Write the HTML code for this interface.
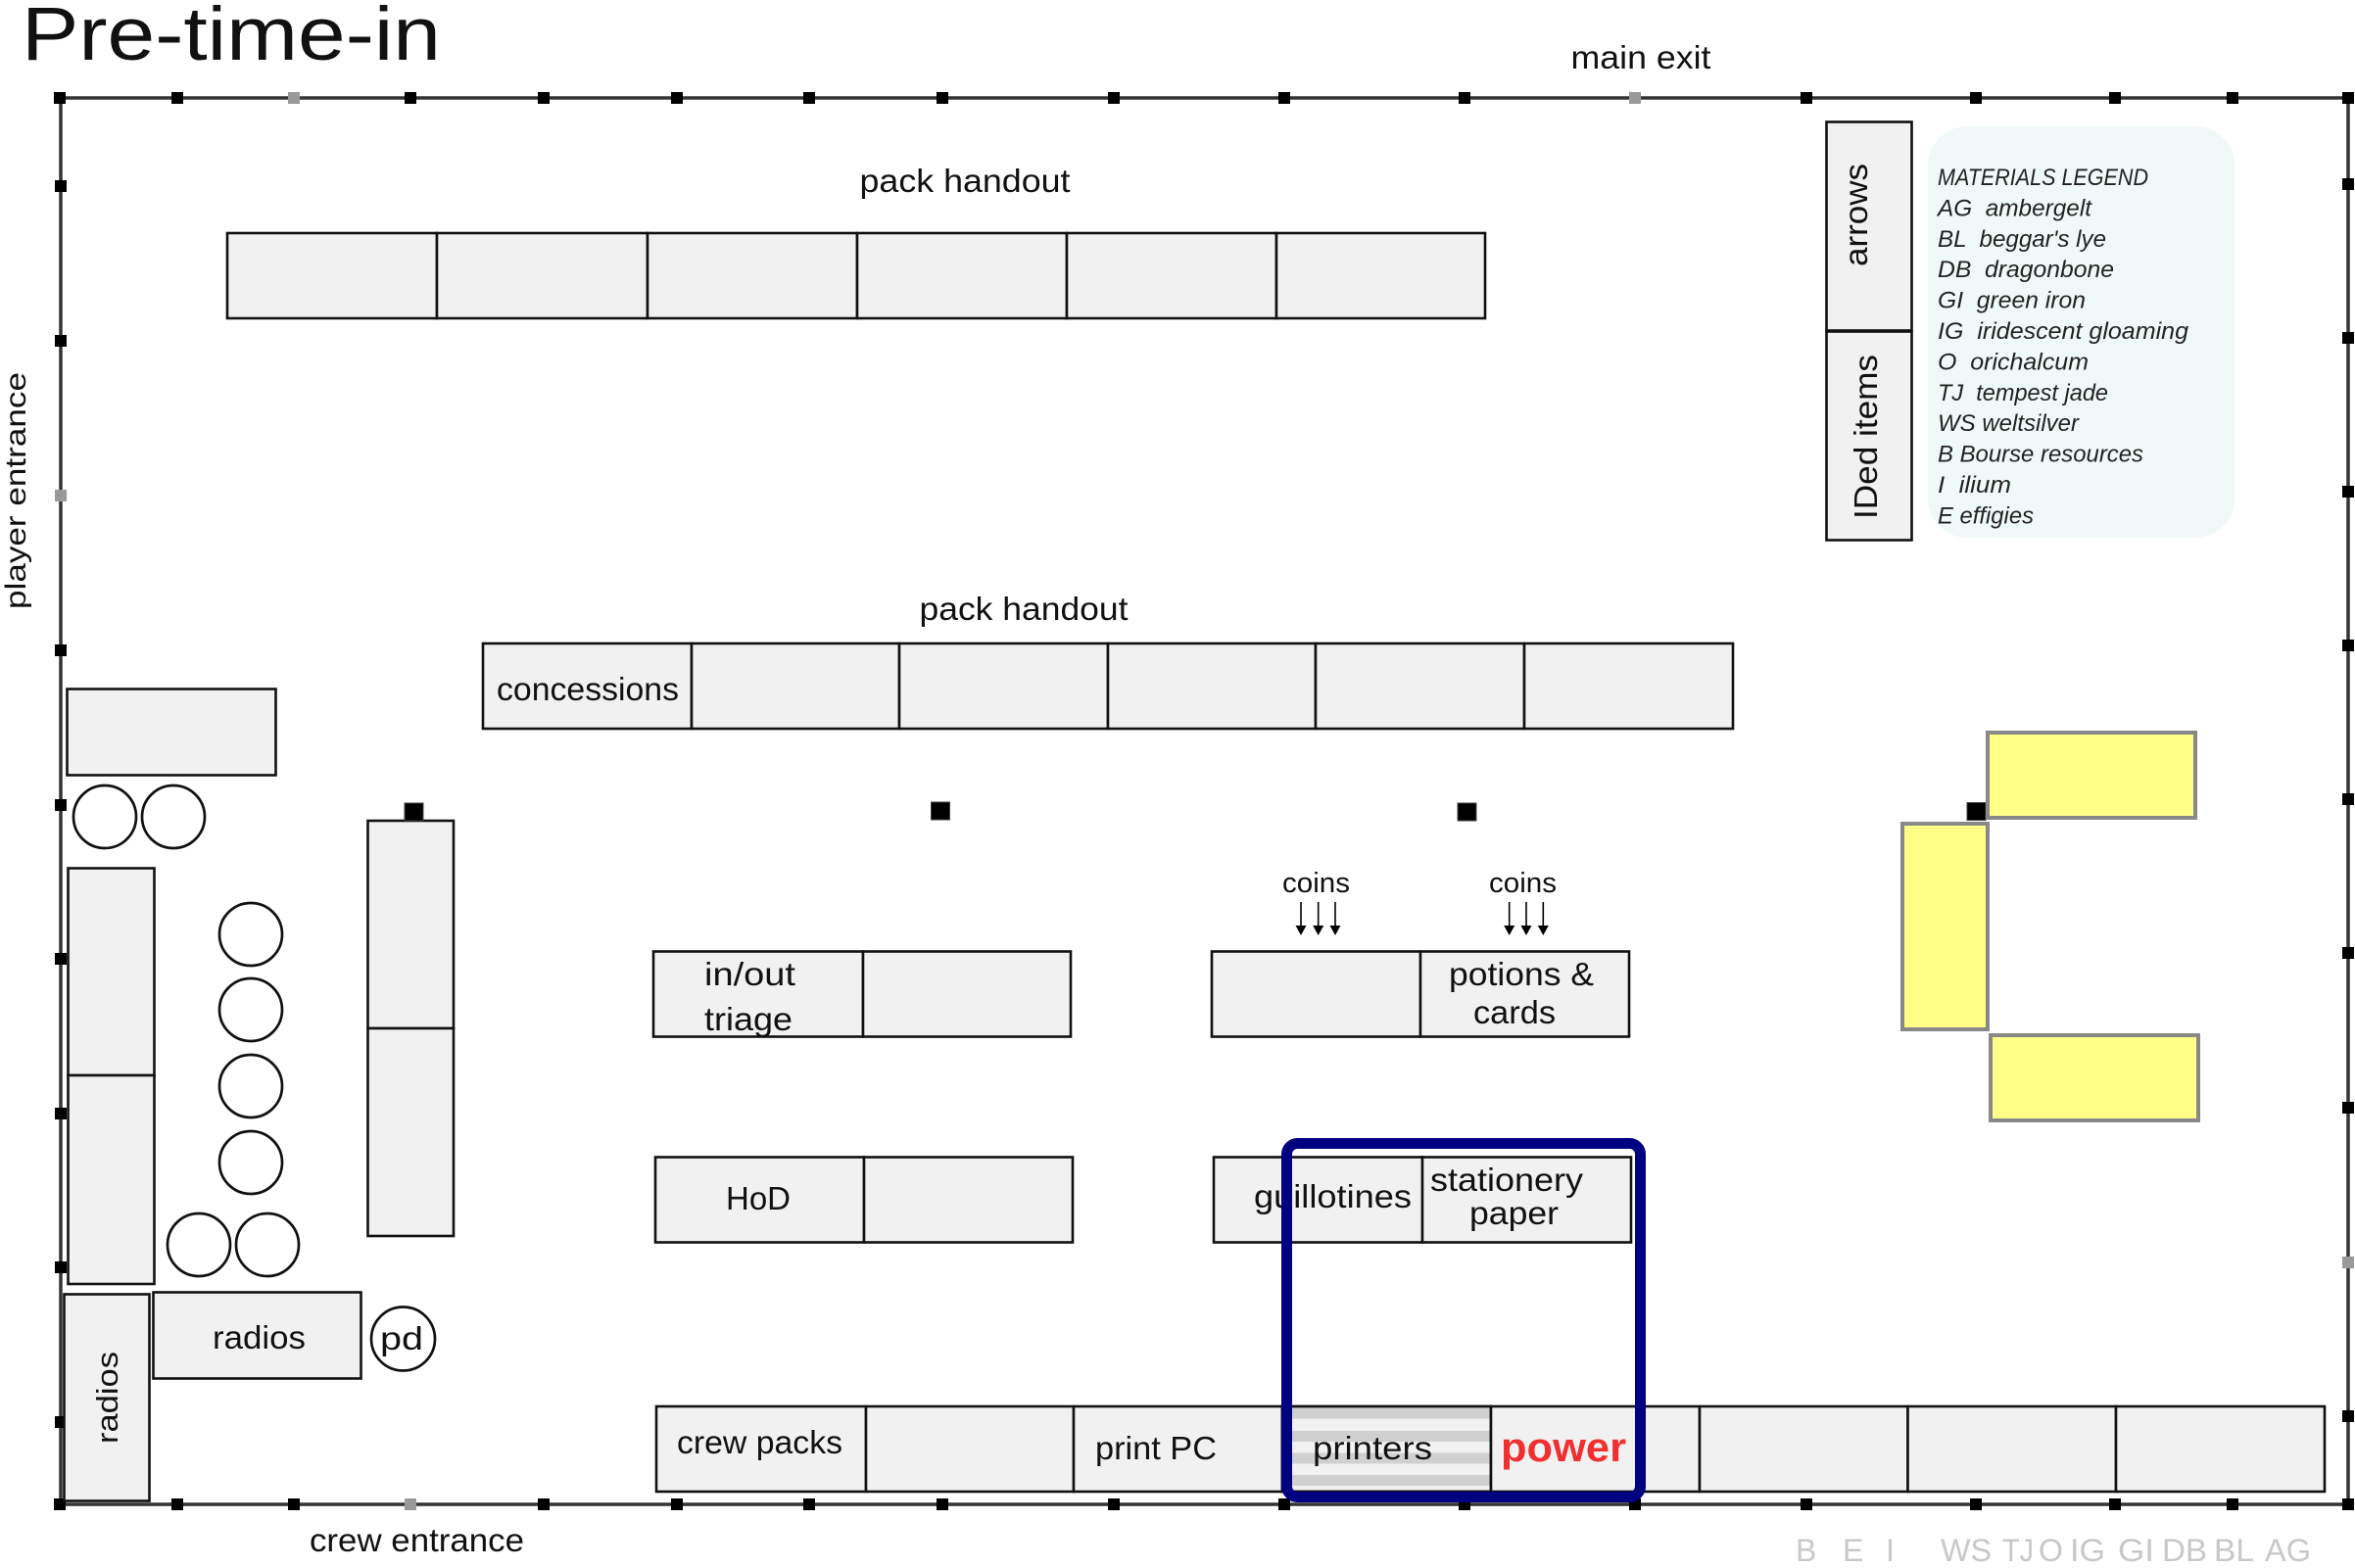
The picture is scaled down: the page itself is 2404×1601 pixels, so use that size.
<!DOCTYPE html>
<html><head><meta charset="utf-8"><style>
html,body{margin:0;padding:0;background:#fff;}
svg{display:block;}
text{font-family:"Liberation Sans",sans-serif;fill:#111;white-space:pre;}
.bx{fill:#f1f1f1;stroke:#111;stroke-width:2.6;}
.ci{fill:#fff;stroke:#111;stroke-width:2.7;}
.yl{fill:#ffff88;stroke:#888;stroke-width:4;}
.t33{font-size:33px;}
.lg{font-size:24.5px;font-style:italic;fill:#222;}
.gl{font-size:32px;fill:#c8c8c8;}
</style></head><body>
<svg width="2404" height="1601" viewBox="0 0 2404 1601" xmlns="http://www.w3.org/2000/svg">
<rect x="0" y="0" width="2404" height="1601" fill="#fff"/>

<!-- title -->
<text x="22" y="61" style="font-size:77px" textLength="428" lengthAdjust="spacingAndGlyphs">Pre-time-in</text>
<text x="1675" y="70" class="t33" text-anchor="middle" textLength="143" lengthAdjust="spacingAndGlyphs">main exit</text>

<!-- border -->
<g stroke="#333" stroke-width="3.5" fill="none">
<line x1="61" y1="100" x2="2398" y2="100"/>
<line x1="61" y1="1536" x2="2398" y2="1536"/>
<line x1="62" y1="100" x2="62" y2="1536"/>
<line x1="2397" y1="100" x2="2397" y2="1536"/>
</g>
<!-- ticks -->
<g fill="#000">
<rect x="55" y="94" width="12" height="12"/><rect x="175" y="94" width="12" height="12"/><rect x="294" y="94" width="12" height="12" fill="#999"/><rect x="413" y="94" width="12" height="12"/><rect x="549" y="94" width="12" height="12"/><rect x="685" y="94" width="12" height="12"/><rect x="820" y="94" width="12" height="12"/><rect x="956" y="94" width="12" height="12"/><rect x="1131" y="94" width="12" height="12"/><rect x="1305" y="94" width="12" height="12"/><rect x="1489" y="94" width="12" height="12"/><rect x="1663" y="94" width="12" height="12" fill="#999"/><rect x="1838" y="94" width="12" height="12"/><rect x="2011" y="94" width="12" height="12"/><rect x="2153" y="94" width="12" height="12"/><rect x="2273" y="94" width="12" height="12"/><rect x="2391" y="94" width="12" height="12"/>
<rect x="55" y="1530" width="12" height="12"/><rect x="175" y="1530" width="12" height="12"/><rect x="294" y="1530" width="12" height="12"/><rect x="413" y="1530" width="12" height="12" fill="#999"/><rect x="549" y="1530" width="12" height="12"/><rect x="685" y="1530" width="12" height="12"/><rect x="820" y="1530" width="12" height="12"/><rect x="956" y="1530" width="12" height="12"/><rect x="1131" y="1530" width="12" height="12"/><rect x="1305" y="1530" width="12" height="12"/><rect x="1489" y="1530" width="12" height="12"/><rect x="1663" y="1530" width="12" height="12"/><rect x="1838" y="1530" width="12" height="12"/><rect x="2011" y="1530" width="12" height="12"/><rect x="2153" y="1530" width="12" height="12"/><rect x="2273" y="1530" width="12" height="12"/><rect x="2391" y="1530" width="12" height="12"/>
<rect x="56" y="184" width="12" height="12"/><rect x="56" y="342" width="12" height="12"/><rect x="56" y="500" width="12" height="12" fill="#999"/><rect x="56" y="658" width="12" height="12"/><rect x="56" y="816" width="12" height="12"/><rect x="56" y="973" width="12" height="12"/><rect x="56" y="1131" width="12" height="12"/><rect x="56" y="1288" width="12" height="12"/><rect x="56" y="1446" width="12" height="12"/>
<rect x="2391" y="182" width="12" height="12"/><rect x="2391" y="339" width="12" height="12"/><rect x="2391" y="496" width="12" height="12"/><rect x="2391" y="653" width="12" height="12"/><rect x="2391" y="810" width="12" height="12"/><rect x="2391" y="967" width="12" height="12"/><rect x="2391" y="1125" width="12" height="12"/><rect x="2391" y="1283" width="12" height="12" fill="#999"/><rect x="2391" y="1440" width="12" height="12"/>
</g>

<!-- side labels -->
<text transform="translate(26,501) rotate(-90)" style="font-size:30px" text-anchor="middle" textLength="242" lengthAdjust="spacingAndGlyphs">player entrance</text>
<text x="316" y="1584" class="t33" textLength="219" lengthAdjust="spacingAndGlyphs">crew entrance</text>

<!-- top pack handout -->
<text x="985" y="196" class="t33" text-anchor="middle" textLength="215" lengthAdjust="spacingAndGlyphs">pack handout</text>
<rect class="bx" x="232" y="238" width="214" height="87"/>
<rect class="bx" x="446" y="238" width="215" height="87"/>
<rect class="bx" x="661" y="238" width="214" height="87"/>
<rect class="bx" x="875" y="238" width="214" height="87"/>
<rect class="bx" x="1089" y="238" width="214" height="87"/>
<rect class="bx" x="1303" y="238" width="213" height="87"/>

<!-- second pack handout -->
<text x="1045" y="633" class="t33" text-anchor="middle" textLength="213" lengthAdjust="spacingAndGlyphs">pack handout</text>
<rect class="bx" x="493" y="657" width="213" height="87"/>
<rect class="bx" x="706" y="657" width="212" height="87"/>
<rect class="bx" x="918" y="657" width="213" height="87"/>
<rect class="bx" x="1131" y="657" width="212" height="87"/>
<rect class="bx" x="1343" y="657" width="213" height="87"/>
<rect class="bx" x="1556" y="657" width="213" height="87"/>
<text x="600" y="715" class="t33" text-anchor="middle" textLength="186" lengthAdjust="spacingAndGlyphs">concessions</text>

<!-- arrows / IDed items -->
<rect class="bx" x="1864.5" y="124.5" width="87" height="213"/>
<rect class="bx" x="1864.5" y="338.5" width="87" height="213"/>
<text transform="translate(1906,219.5) rotate(-90)" class="t33" text-anchor="middle" textLength="105" lengthAdjust="spacingAndGlyphs">arrows</text>
<text transform="translate(1916,446) rotate(-90)" class="t33" text-anchor="middle" textLength="168" lengthAdjust="spacingAndGlyphs">IDed items</text>

<!-- legend -->
<rect x="1968" y="129" width="313" height="420" rx="40" ry="40" fill="#eff9f8"/>
<text x="1978" y="189" class="lg" textLength="215" lengthAdjust="spacingAndGlyphs">MATERIALS LEGEND</text>
<text x="1978" y="220.4" class="lg" textLength="157" lengthAdjust="spacingAndGlyphs">AG  ambergelt</text>
<text x="1978" y="251.8" class="lg" textLength="172" lengthAdjust="spacingAndGlyphs">BL  beggar's lye</text>
<text x="1978" y="283.2" class="lg" textLength="180" lengthAdjust="spacingAndGlyphs">DB  dragonbone</text>
<text x="1978" y="314.6" class="lg" textLength="151" lengthAdjust="spacingAndGlyphs">GI  green iron</text>
<text x="1978" y="346" class="lg" textLength="256" lengthAdjust="spacingAndGlyphs">IG  iridescent gloaming</text>
<text x="1978" y="377.4" class="lg" textLength="154" lengthAdjust="spacingAndGlyphs">O  orichalcum</text>
<text x="1978" y="408.8" class="lg" textLength="174" lengthAdjust="spacingAndGlyphs">TJ  tempest jade</text>
<text x="1978" y="440.2" class="lg" textLength="144" lengthAdjust="spacingAndGlyphs">WS weltsilver</text>
<text x="1978" y="471.6" class="lg" textLength="210" lengthAdjust="spacingAndGlyphs">B Bourse resources</text>
<text x="1978" y="503" class="lg" textLength="75" lengthAdjust="spacingAndGlyphs">I  ilium</text>
<text x="1978" y="534.4" class="lg" textLength="98" lengthAdjust="spacingAndGlyphs">E effigies</text>

<!-- left furniture -->
<rect class="bx" x="68.5" y="703.5" width="213" height="88"/>
<circle class="ci" cx="107" cy="834" r="32"/>
<circle class="ci" cx="177" cy="834" r="32"/>
<rect class="bx" x="69.5" y="886.5" width="88" height="211.5"/>
<rect class="bx" x="69.5" y="1098" width="88" height="213"/>
<circle class="ci" cx="256" cy="954" r="32"/>
<circle class="ci" cx="256" cy="1031" r="32"/>
<circle class="ci" cx="256" cy="1109" r="32"/>
<circle class="ci" cx="256" cy="1187" r="32"/>
<circle class="ci" cx="203" cy="1271" r="32"/>
<circle class="ci" cx="273" cy="1271" r="32"/>
<rect class="bx" x="65.5" y="1321.5" width="87" height="211"/>
<text transform="translate(120,1427) rotate(-90)" style="font-size:31px" text-anchor="middle" textLength="94" lengthAdjust="spacingAndGlyphs">radios</text>
<rect class="bx" x="156.5" y="1319.5" width="212" height="88"/>
<text x="264.5" y="1377" class="t33" text-anchor="middle" textLength="95" lengthAdjust="spacingAndGlyphs">radios</text>
<circle class="ci" cx="411.5" cy="1367" r="32.5"/>
<text x="410" y="1378" class="t33" text-anchor="middle" textLength="44" lengthAdjust="spacingAndGlyphs">pd</text>
<rect class="bx" x="375.5" y="838" width="87.5" height="212"/>
<rect class="bx" x="375.5" y="1050" width="87.5" height="212"/>

<!-- pillars -->
<g fill="#000" stroke="#444" stroke-width="1">
<rect x="413" y="820" width="19" height="18"/>
<rect x="950.5" y="819" width="19" height="18"/>
<rect x="1488" y="820" width="19" height="18"/>
<rect x="2008" y="819.5" width="19" height="18"/>
</g>

<!-- in/out triage -->
<rect class="bx" x="667" y="971.5" width="214" height="87"/>
<rect class="bx" x="881" y="971.5" width="212" height="87"/>
<text x="765.5" y="1006" class="t33" text-anchor="middle" textLength="93" lengthAdjust="spacingAndGlyphs">in/out</text>
<text x="764" y="1052" class="t33" text-anchor="middle" textLength="90" lengthAdjust="spacingAndGlyphs">triage</text>

<!-- HoD -->
<rect class="bx" x="669" y="1181.5" width="213" height="87"/>
<rect class="bx" x="882" y="1181.5" width="213" height="87"/>
<text x="774" y="1235" class="t33" text-anchor="middle" textLength="66" lengthAdjust="spacingAndGlyphs">HoD</text>

<!-- coins -->
<text x="1343.5" y="911" style="font-size:29px" text-anchor="middle" textLength="69" lengthAdjust="spacingAndGlyphs">coins</text>
<text x="1554.5" y="911" style="font-size:29px" text-anchor="middle" textLength="69" lengthAdjust="spacingAndGlyphs">coins</text>
<g stroke="#000" stroke-width="1.6">
<line x1="1328" y1="921" x2="1328" y2="946"/><line x1="1345.7" y1="921" x2="1345.7" y2="946"/><line x1="1363" y1="921" x2="1363" y2="946"/>
<line x1="1540.7" y1="921" x2="1540.7" y2="946"/><line x1="1558" y1="921" x2="1558" y2="946"/><line x1="1575.3" y1="921" x2="1575.3" y2="946"/>
</g>
<g fill="#000">
<polygon points="1322.5,945 1333.5,945 1328,955"/><polygon points="1340.2,945 1351.2,945 1345.7,955"/><polygon points="1357.5,945 1368.5,945 1363,955"/>
<polygon points="1535.2,945 1546.2,945 1540.7,955"/><polygon points="1552.5,945 1563.5,945 1558,955"/><polygon points="1569.8,945 1580.8,945 1575.3,955"/>
</g>
<rect class="bx" x="1237" y="971.5" width="213" height="87"/>
<rect class="bx" x="1450" y="971.5" width="213" height="87"/>
<text x="1553" y="1006" class="t33" text-anchor="middle" textLength="148" lengthAdjust="spacingAndGlyphs">potions &amp;</text>
<text x="1546" y="1045" class="t33" text-anchor="middle" textLength="84" lengthAdjust="spacingAndGlyphs">cards</text>

<!-- guillotines / stationery -->
<rect class="bx" x="1239" y="1181.5" width="213" height="87"/>
<rect class="bx" x="1452" y="1181.5" width="213" height="87"/>
<text x="1360.5" y="1233" class="t33" text-anchor="middle" textLength="161" lengthAdjust="spacingAndGlyphs">guillotines</text>
<text x="1538" y="1216" class="t33" text-anchor="middle" textLength="156" lengthAdjust="spacingAndGlyphs">stationery</text>
<text x="1545.5" y="1250" class="t33" text-anchor="middle" textLength="91" lengthAdjust="spacingAndGlyphs">paper</text>

<!-- bottom row -->
<rect class="bx" x="670" y="1436" width="214" height="87"/>
<rect class="bx" x="884" y="1436" width="212" height="87"/>
<rect class="bx" x="1096" y="1436" width="213" height="87"/>
<rect class="bx" x="1309" y="1436" width="213" height="87"/>
<g fill="#d0d0d0">
<rect x="1310.5" y="1438" width="210" height="10.5"/>
<rect x="1310.5" y="1461" width="210" height="11"/>
<rect x="1310.5" y="1483.5" width="210" height="11"/>
<rect x="1310.5" y="1506" width="210" height="11"/>
</g>
<rect x="1309" y="1436" width="213" height="87" fill="none" stroke="#111" stroke-width="2.6"/>
<rect class="bx" x="1522" y="1436" width="213" height="87"/>
<rect class="bx" x="1735" y="1436" width="212.5" height="87"/>
<rect class="bx" x="1947.5" y="1436" width="212.5" height="87"/>
<rect class="bx" x="2160" y="1436" width="213" height="87"/>
<text x="775.5" y="1484" class="t33" text-anchor="middle" textLength="169" lengthAdjust="spacingAndGlyphs">crew packs</text>
<text x="1180" y="1490" class="t33" text-anchor="middle" textLength="124" lengthAdjust="spacingAndGlyphs">print PC</text>
<text x="1401" y="1490" class="t33" text-anchor="middle" textLength="122" lengthAdjust="spacingAndGlyphs">printers</text>
<text x="1596" y="1492" text-anchor="middle" style="font-size:42px;font-weight:bold;fill:#f03030" textLength="128" lengthAdjust="spacingAndGlyphs">power</text>

<!-- blue highlight -->
<rect x="1313.5" y="1167.5" width="361" height="361" rx="11" ry="11" fill="none" stroke="#000080" stroke-width="11"/>

<!-- yellow -->
<rect class="yl" x="2029" y="748" width="212" height="87"/>
<rect class="yl" x="1942" y="841" width="87" height="210"/>
<rect class="yl" x="2032" y="1057" width="212" height="87"/>

<!-- gray codes -->
<text x="1833" y="1594" class="gl">B</text>
<text x="1881" y="1594" class="gl">E</text>
<text x="1925" y="1594" class="gl">I</text>
<text x="1981" y="1594" class="gl" textLength="52" lengthAdjust="spacingAndGlyphs">WS</text>
<text x="2044" y="1594" class="gl" textLength="32" lengthAdjust="spacingAndGlyphs">TJ</text>
<text x="2081" y="1594" class="gl">O</text>
<text x="2113" y="1594" class="gl" textLength="36" lengthAdjust="spacingAndGlyphs">IG</text>
<text x="2162" y="1594" class="gl" textLength="37" lengthAdjust="spacingAndGlyphs">GI</text>
<text x="2207" y="1594" class="gl" textLength="46" lengthAdjust="spacingAndGlyphs">DB</text>
<text x="2260" y="1594" class="gl" textLength="41" lengthAdjust="spacingAndGlyphs">BL</text>
<text x="2312" y="1594" class="gl" textLength="47" lengthAdjust="spacingAndGlyphs">AG</text>
</svg>
</body></html>
